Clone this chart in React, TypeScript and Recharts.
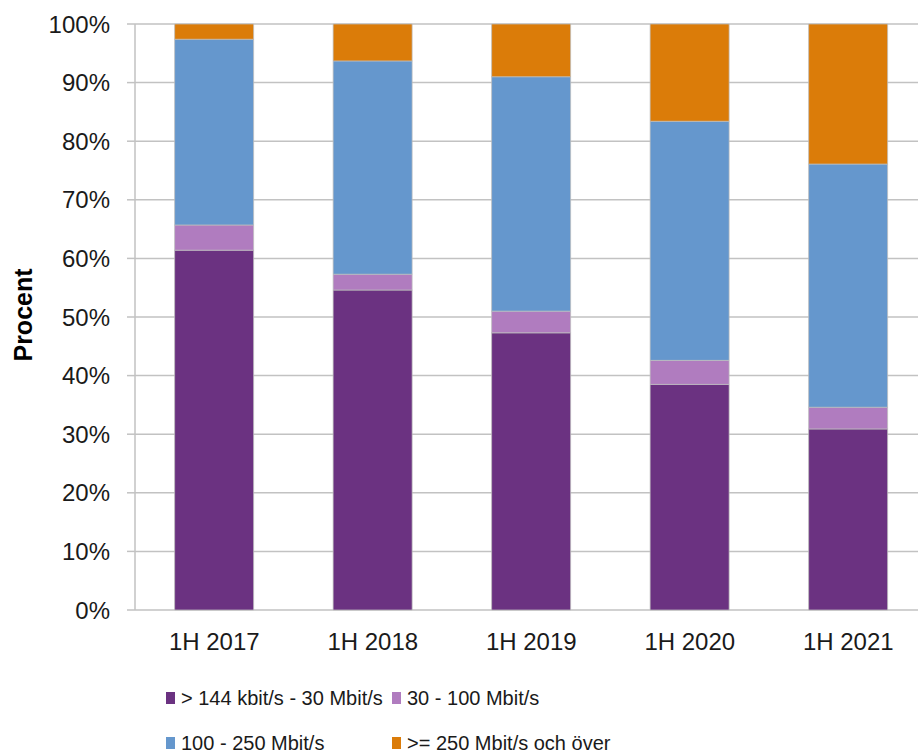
import { BarChart, Bar, XAxis, YAxis, CartesianGrid, Legend, Label } from "recharts";

const periods = ["1H 2017", "1H 2018", "1H 2019", "1H 2020", "1H 2021"];
const upTo30 = [61.4, 54.6, 47.3, 38.5, 30.9];
const from30to100 = [4.3, 2.7, 3.7, 4.1, 3.7];
const from100to250 = [31.7, 36.4, 40.0, 40.8, 41.5];
const over250 = [2.6, 6.3, 9.0, 16.6, 23.9];
const yTicks = [0, 10, 20, 30, 40, 50, 60, 70, 80, 90, 100];

const SERIES = [
    { key: "a", name: "> 144 kbit/s - 30 Mbit/s", color: "#6b3281" },
    { key: "b", name: "30 - 100 Mbit/s", color: "#b07cbf" },
    { key: "c", name: "100 - 250 Mbit/s", color: "#6597cd" },
    { key: "d", name: ">= 250 Mbit/s och över", color: "#db7c09" },
];

const data = periods.map((p, i) => ({
    period: p,
    a: upTo30[i],
    b: from30to100[i],
    c: from100to250[i],
    d: over250[i],
}));

const FONT = "'Liberation Sans', Arial, sans-serif";
const GRID = "#c2c2c2";

// legend laid out as a 2x2 grid like the original
const LegendGrid = () => {
    const cols = [166, 392];
    const rows = [33, 78];
    return (
        <div style={{ position: "relative", width: 918, height: 90, fontFamily: FONT, fontSize: 20, color: "#1a1a1a" }}>
            {SERIES.map((s, i) => (
                <div
                    key={s.key}
                    style={{
                        position: "absolute",
                        left: cols[i % 2],
                        top: rows[Math.floor(i / 2)] - 12,
                        height: 24,
                        display: "flex",
                        alignItems: "center",
                        whiteSpace: "nowrap",
                    }}
                >
                    <span style={{ display: "inline-block", width: 9, height: 12, background: s.color, marginRight: 6 }} />
                    <span>{s.name}</span>
                </div>
            ))}
        </div>
    );
};

export default function App() {
    return (
        <div style={{ position: "absolute", left: 0, top: 0, width: 918, height: 755, overflow: "hidden", background: "#fff" }}>
            <BarChart
                width={940}
                height={755}
                data={data}
                margin={{ top: 24, right: 12.5, bottom: 0, left: 0 }}
                barCategoryGap="25%"
            >
                <CartesianGrid vertical={false} stroke={GRID} strokeWidth={1.5} />
                <XAxis
                    xAxisId="edges"
                    type="number"
                    domain={[0, 5]}
                    ticks={[0, 1, 2, 3, 4, 5]}
                    allowDataOverflow
                    height={0}
                    tick={false}
                    tickSize={8}
                    stroke={GRID}
                    strokeWidth={1.5}
                />
                <XAxis
                    dataKey="period"
                    height={55}
                    axisLine={false}
                    tickLine={false}
                    tickSize={0}
                    tickMargin={23}
                    tick={{ fill: "#1a1a1a", fontSize: 24, fontFamily: FONT }}
                />
                <YAxis
                    width={135}
                    domain={[0, 100]}
                    ticks={yTicks}
                    tickFormatter={(v) => `${v}%`}
                    tickSize={8}
                    tickMargin={17}
                    stroke={GRID}
                    strokeWidth={1.5}
                    tick={{ fill: "#1a1a1a", fontSize: 24, fontFamily: FONT }}
                >
                    <Label
                        content={({ viewBox }: any) => {
                            const cx = 32;
                            const cy = viewBox.y + viewBox.height / 2 - 2;
                            return (
                                <text
                                    x={cx}
                                    y={cy}
                                    transform={`rotate(-90 ${cx} ${cy})`}
                                    textAnchor="middle"
                                    fontFamily={FONT}
                                    fontWeight="bold"
                                    fontSize={25}
                                    fill="#000"
                                >
                                    Procent
                                </text>
                            );
                        }}
                    />
                </YAxis>
                {SERIES.map((s) => (
                    <Bar
                        key={s.key}
                        dataKey={s.key}
                        name={s.name}
                        stackId="all"
                        fill={s.color}
                        stroke="#bdbdbd"
                        strokeWidth={0.75}
                        isAnimationActive={false}
                    />
                ))}
                <Legend verticalAlign="bottom" content={() => <LegendGrid />} wrapperStyle={{ left: 0, width: 918 }} />
            </BarChart>
        </div>
    );
}
